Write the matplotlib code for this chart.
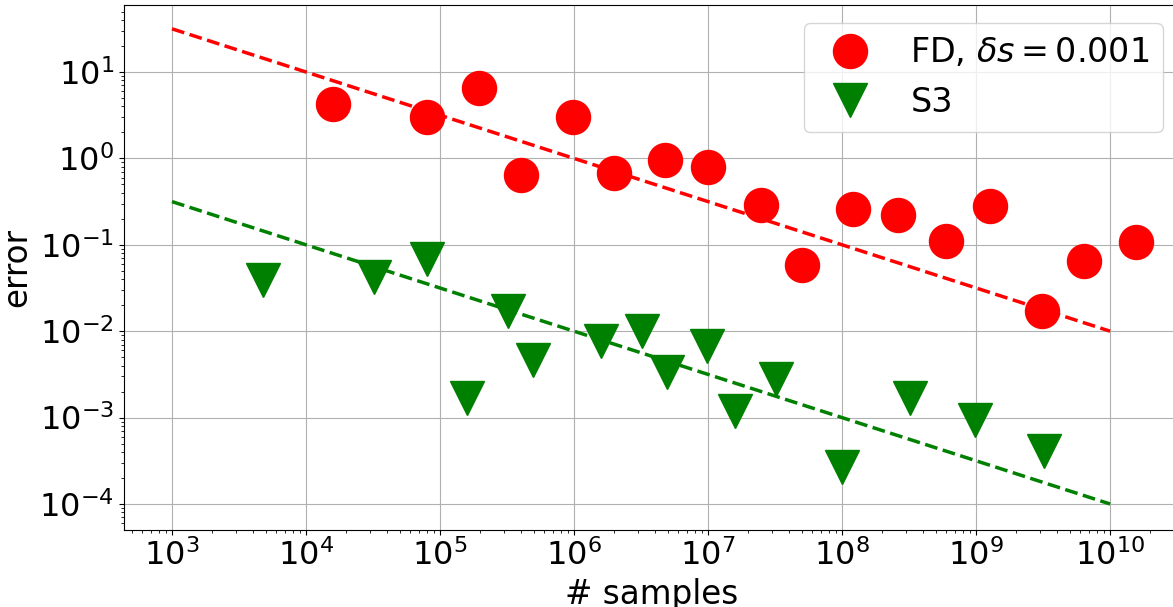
import numpy as np
import matplotlib.pyplot as plt

# FD samples / error
fd_n = [1.6e4, 8e4, 1.95e5, 4e5, 9.8e5, 2e6, 4.8e6, 1e7, 2.5e7, 5e7,
        1.2e8, 2.6e8, 6e8, 1.26e9, 3.1e9, 6.4e9, 1.55e10]
fd_err = [4.3, 3.0, 6.5, 0.64, 3.0, 0.67, 0.95, 0.8, 0.29, 0.058,
          0.26, 0.22, 0.11, 0.28, 0.017, 0.065, 0.107]

# S3 samples / error
s3_n = [4.8e3, 3.2e4, 8e4, 1.6e5, 3.2e5, 4.9e5, 1.6e6, 3.2e6, 4.9e6, 9.8e6,
        1.6e7, 3.2e7, 1e8, 3.2e8, 9.8e8, 3.2e9]
s3_err = [0.039, 0.042, 0.068, 0.0017, 0.017, 0.0046, 0.0076, 0.010, 0.0034, 0.0068,
          0.0012, 0.0028, 0.00027, 0.0017, 0.00093, 0.00041]

# reference slope lines (endpoints)
ref_n = [1e3, 1e10]
fd_ref = [31.6, 0.01]
s3_ref = [0.316, 1e-4]

fig = plt.figure(figsize=(11.73, 6.07), dpi=100)
# axes runs a little past the right edge of the figure, as in the original
ax = fig.add_axes([0.1055, 0.127, 0.9003, 0.864])

ax.loglog(fd_n, fd_err, 'ro', markersize=24.5, label=r'FD, $\delta s = 0.001$')
ax.loglog(s3_n, s3_err, 'gv', markersize=24.5, label='S3')
ax.loglog(ref_n, fd_ref, 'r--', linewidth=2.5)
ax.loglog(ref_n, s3_ref, 'g--', linewidth=2.5)

ax.set_xlim(10**2.64, 10**10.52)
ax.set_ylim(10**-4.3, 10**1.77)
ax.grid(True)
ax.set_xlabel('# samples', fontsize=23.5)
ax.set_ylabel('error', fontsize=23.5)
ax.tick_params(labelsize=23)
ax.legend(fontsize=24, loc='upper right', bbox_to_anchor=(1163 / 1173, 1 - 23 / 607),
          bbox_transform=fig.transFigure, borderaxespad=0)

fig.savefig('out.png', dpi=100)
